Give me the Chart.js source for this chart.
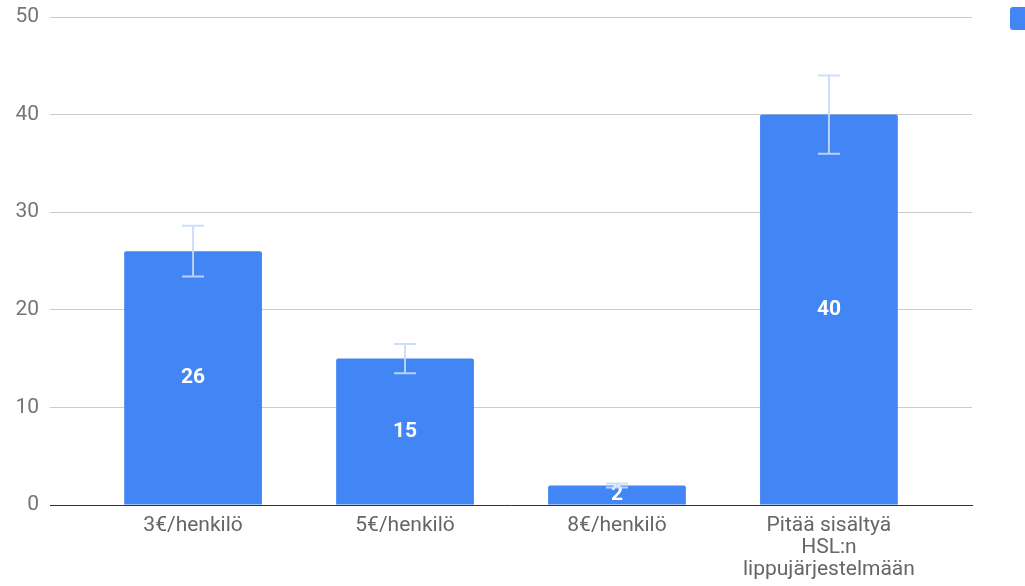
<!DOCTYPE html>
<html>
<head>
<meta charset="utf-8">
<script src="https://cdn.jsdelivr.net/npm/chart.js@4/dist/chart.umd.min.js"></script>
<style>
  html, body { margin: 0; padding: 0; background: #fff; overflow: hidden; }
  #wrap { width: 1025px; height: 586px; }
</style>
</head>
<body>
<div id="wrap"><canvas id="chart"></canvas></div>
<script>
const categories = [
  ["3€/henkilö"],
  ["5€/henkilö"],
  ["8€/henkilö"],
  ["Pitää sisältyä", "HSL:n", "lippujärjestelmään"]
];
const values = [26, 15, 2, 40];
const errors = [2.6, 1.5, 0.2, 4];
const yTicks = [0, 10, 20, 30, 40, 50];

const blue = "#4285f4";

// error bars + value labels inside the bars
const barExtras = {
  id: "barExtras",
  afterDatasetsDraw(chart) {
    const { ctx, scales: { y } } = chart;
    const meta = chart.getDatasetMeta(0);
    ctx.save();
    meta.data.forEach((bar, i) => {
      ctx.fillStyle = "#fff";
      ctx.font = "bold 21px Roboto";
      ctx.textAlign = "center";
      ctx.textBaseline = "middle";
      ctx.fillText(String(values[i]), bar.x, (bar.y + bar.base) / 2);

      const top = y.getPixelForValue(values[i] + errors[i]);
      const bot = y.getPixelForValue(values[i] - errors[i]);
      ctx.strokeStyle = "rgba(198, 218, 252, 0.9)";
      ctx.lineWidth = 2;
      ctx.beginPath();
      ctx.moveTo(bar.x, top); ctx.lineTo(bar.x, bot);
      ctx.moveTo(bar.x - 11, top); ctx.lineTo(bar.x + 11, top);
      ctx.moveTo(bar.x - 11, bot); ctx.lineTo(bar.x + 11, bot);
      ctx.stroke();
    });
    // legend swatch, label runs off the picture
    const area = chart.chartArea;
    ctx.fillStyle = blue;
    ctx.beginPath();
    ctx.roundRect(area.right + 38, 7, 24, 23, 3);
    ctx.fill();
    ctx.restore();
  }
};

new Chart(document.getElementById("chart"), {
  type: "bar",
  data: {
    datasets: [{
      data: values.map((v, i) => ({ x: i, y: v })),
      backgroundColor: blue,
      borderRadius: 2,
      borderSkipped: "bottom",
      barPercentage: 0.65,
      categoryPercentage: 1
    }]
  },
  options: {
    responsive: true,
    maintainAspectRatio: false,
    animation: false,
    layout: { padding: { top: 17, right: 53, left: 0, bottom: 0 } },
    plugins: { legend: { display: false }, tooltip: { enabled: false } },
    scales: {
      x: {
        type: "linear",
        offset: false,
        min: -0.675,
        max: categories.length - 1 + 0.675,
        afterBuildTicks: s => { s.ticks = categories.map((c, i) => ({ value: i })); },
        afterFit: s => { s.height = 81; s.paddingLeft = 0; s.paddingRight = 0; },
        grid: { display: false, drawTicks: false, offset: false },
        border: { display: true, color: "#333", width: 1 },
        ticks: {
          callback: v => categories[v],
          color: "#666",
          font: { family: "Roboto", size: 21, lineHeight: 1.05 },
          padding: 10,
          maxRotation: 0,
          autoSkip: false
        }
      },
      y: {
        min: 0,
        max: 50,
        afterBuildTicks: s => { s.ticks = yTicks.map(v => ({ value: v })); },
        afterFit: s => { s.width = 50; s.paddingTop = 0; s.paddingBottom = 0; },
        grid: { color: "#cccccc", drawTicks: false },
        border: { display: false },
        ticks: {
          color: "#757575",
          font: { family: "Roboto", size: 21 },
          padding: 11
        }
      }
    }
  },
  plugins: [barExtras]
});
</script>
</body>
</html>
